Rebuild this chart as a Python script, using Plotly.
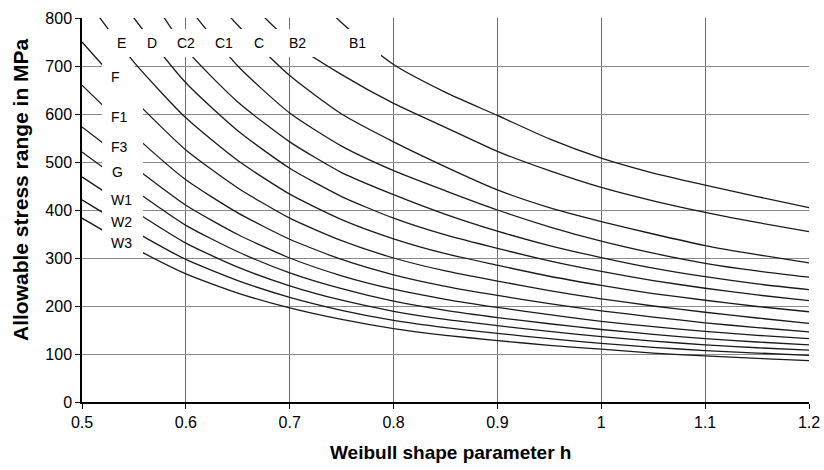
import plotly.graph_objects as go

# ---- data ----
h = [0.50, 0.55, 0.60, 0.65, 0.70, 0.75, 0.80, 0.85, 0.90, 0.95, 1.00, 1.05, 1.10, 1.15, 1.20]

B1 = [1800, 1500, 1250, 1060, 905, 790, 703, 645, 597, 548, 508, 477, 452, 428, 405]
B2 = [1480, 1230, 1020, 860, 752, 682, 622, 572, 522, 482, 447, 419, 395, 374, 355]
C  = [1300, 1092, 910, 785, 680, 600, 542, 490, 442, 405, 376, 350, 326, 307, 290]
C1 = [1200, 1000, 830, 700, 602, 533, 482, 440, 400, 365, 335, 310, 289, 273, 260]
C2 = [1080, 900, 735, 625, 542, 478, 432, 391, 356, 326, 301, 279, 261, 246, 234]
D  = [950, 800, 665, 565, 487, 428, 383, 348, 320, 294, 272, 253, 237, 223, 211]
E  = [850, 708, 592, 503, 433, 380, 340, 309, 285, 262, 243, 226, 212, 199, 188]
F  = [750, 630, 525, 446, 383, 336, 300, 273, 252, 232, 215, 200, 187, 175, 164]
F1 = [660, 556, 463, 394, 339, 297, 265, 241, 222, 205, 190, 177, 165, 155, 146]
F3 = [573, 490, 410, 349, 300, 263, 235, 214, 197, 182, 168, 157, 147, 139, 132]
G  = [521, 442, 368, 313, 269, 236, 210, 191, 176, 163, 151, 141, 132, 125, 119]
W1 = [469, 398, 331, 281, 242, 212, 189, 172, 159, 147, 136, 127, 119, 113, 108]
W2 = [421, 356, 297, 253, 218, 191, 170, 155, 143, 132, 122, 114, 107, 102, 97]
W3 = [383, 321, 267, 227, 196, 172, 153, 139, 128, 118, 110, 102, 96, 91, 86]

curve_names = ["B1", "B2", "C", "C1", "C2", "D", "E", "F", "F1", "F3", "G", "W1", "W2", "W3"]
curve_values = [B1, B2, C, C1, C2, D, E, F, F1, F3, G, W1, W2, W3]

x_ticks = [0.5, 0.6, 0.7, 0.8, 0.9, 1.0, 1.1, 1.2]
x_tick_text = ["0.5", "0.6", "0.7", "0.8", "0.9", "1", "1.1", "1.2"]
y_ticks = [0, 100, 200, 300, 400, 500, 600, 700, 800]

# ---- layout geometry ----
W, H = 824, 470
L, R, T, B = 82, 15, 18, 68
X0, X1 = 0.5, 1.2
Y0, Y1 = 0, 800
pw, ph = W - L - R, H - T - B
FONT = "Liberation Sans, Arial, sans-serif"


def px2x(px):
    return X0 + (px - L) / pw * (X1 - X0)


def py2y(py):
    return Y1 - (py - T) / ph * (Y1 - Y0)


fig = go.Figure()
for name, vals in zip(curve_names, curve_values):
    fig.add_trace(go.Scatter(
        x=h, y=vals, mode="lines", name=name,
        line=dict(color="#1a1a1a", width=1.3, shape="spline", smoothing=0.6),
        showlegend=False, hoverinfo="skip"))

# white region behind the curve labels (the curves are interrupted there)
mask_px = [(102, 29), (381, 29), (381, 57), (128, 57), (142, 77), (143, 77),
           (143, 255), (102, 255)]
path = "M " + " L ".join(f"{px2x(a):.5f},{py2y(b):.3f}" for a, b in mask_px) + " Z"
fig.add_shape(type="path", path=path, xref="x", yref="y",
              fillcolor="white", line=dict(width=0), layer="above")

label_pos = {
    "E": (121, 43), "D": (152, 43), "C2": (186, 43), "C1": (224, 43),
    "C": (259, 43), "B2": (297, 43), "B1": (357, 43),
    "F": (115, 77), "F1": (119, 117), "F3": (119, 147), "G": (117, 172),
    "W1": (121, 200), "W2": (121, 222), "W3": (121, 243),
}
for name, (a, b) in label_pos.items():
    fig.add_annotation(x=px2x(a), y=py2y(b), text=name, showarrow=False,
                       xanchor="center", yanchor="middle",
                       font=dict(family=FONT, size=14, color="black"))

# axis titles
fig.add_annotation(xref="paper", yref="paper", x=(450 - L) / pw, y=(H - 452 - B) / ph,
                   text="<b>Weibull shape parameter h</b>", showarrow=False,
                   xanchor="center", yanchor="middle",
                   font=dict(family=FONT, size=19, color="black"))
fig.add_annotation(xref="paper", yref="paper", x=(20 - L) / pw, y=(H - 190 - B) / ph,
                   text="<b>Allowable stress range in MPa</b>", showarrow=False,
                   textangle=-90, xanchor="center", yanchor="middle",
                   font=dict(family=FONT, size=21, color="black"))

axis_font = dict(family=FONT, size=16, color="black")
fig.update_xaxes(range=[X0, X1], tickvals=x_ticks, ticktext=x_tick_text,
                 showgrid=True, gridcolor="#6e6e6e", gridwidth=1,
                 showline=True, linecolor="black", linewidth=1.5,
                 ticks="outside", ticklen=5, tickcolor="black",
                 tickfont=axis_font, zeroline=False, automargin=False)
fig.update_yaxes(range=[Y0, Y1], tickvals=y_ticks,
                 showgrid=True, gridcolor="#8a8a8a", gridwidth=1,
                 showline=True, linecolor="black", linewidth=1.5,
                 ticks="outside", ticklen=5, tickcolor="black",
                 tickfont=axis_font, zeroline=False, automargin=False)
fig.update_layout(width=W, height=H, margin=dict(l=L, r=R, t=T, b=B),
                  paper_bgcolor="white", plot_bgcolor="white")

fig.write_html("out.html", config={"displayModeBar": False},
               post_script="document.body.style.margin='0px';document.body.style.overflow='hidden';")
